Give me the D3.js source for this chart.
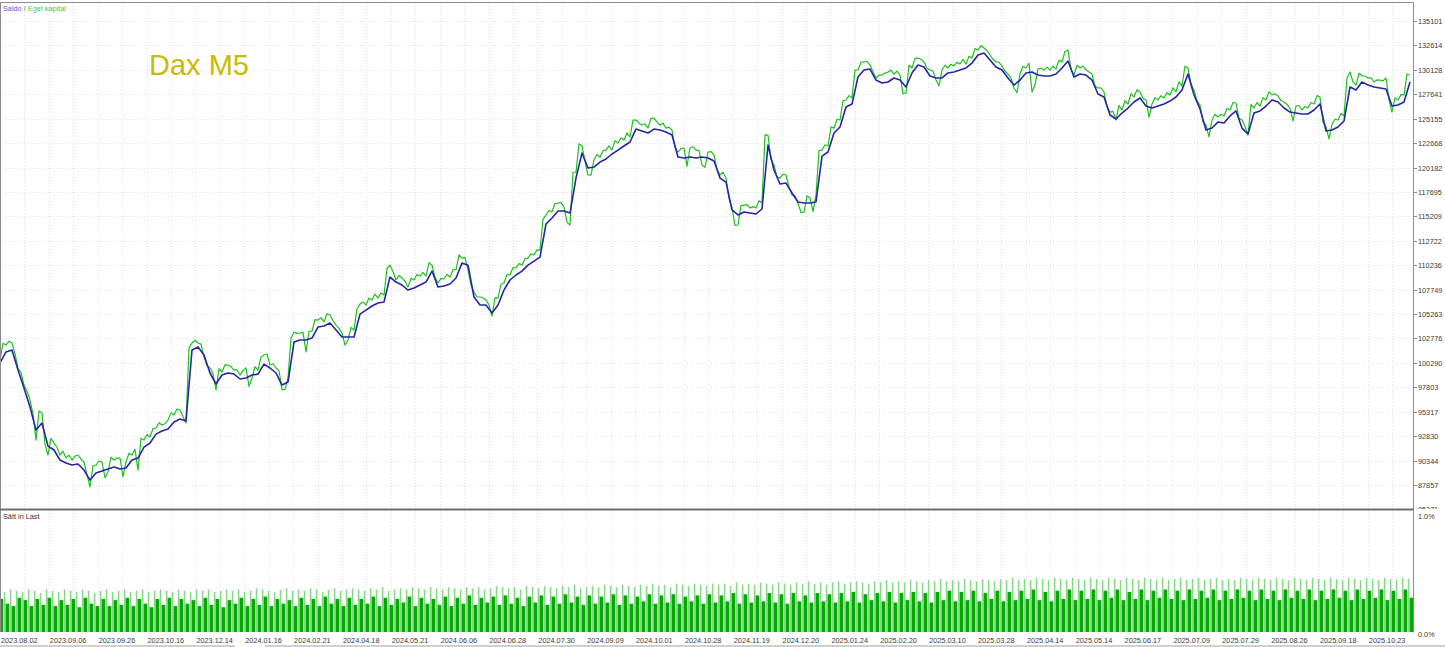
<!DOCTYPE html>
<html><head><meta charset="utf-8">
<script src="https://cdn.jsdelivr.net/npm/d3@7"></script>
<style>html,body{margin:0;padding:0;background:#fff;}svg{display:block;}</style>
</head><body>
<script>
const yTicks = [135101,132614,130128,127641,125155,122668,120182,117695,115209,112722,110236,107749,105263,102776,100290,97803,95317,92830,90344,87857];
const yBottomLabel = 85371;
const xLabels = ["2023.08.02","2023.09.06","2023.09.26","2023.10.16","2023.12.14","2024.01.16","2024.02.21","2024.04.18","2024.05.21","2024.06.06","2024.06.28","2024.07.30","2024.09.09","2024.10.01","2024.10.28","2024.11.19","2024.12.20","2025.01.24","2025.02.20","2025.03.10","2025.03.28","2025.04.14","2025.05.14","2025.06.17","2025.07.09","2025.07.29","2025.08.26","2025.09.18","2025.10.23"];

const balance = [100280,101400,101600,99560,97730,95790,93450,94170,91820,91420,
90400,90090,89890,89990,89380,88360,89070,89280,89480,89680,
89480,89580,90400,90600,91720,92130,93040,93350,93550,94270,
94570,94370,101600,101900,101090,99260,98140,99050,99260,99150,
98650,98750,99050,99150,100170,99770,99260,98030,98340,102410,
102620,102620,102820,103940,104040,104350,103640,102920,102920,102920,
105260,105670,106080,106390,106490,109030,108520,108220,107710,107910,
108220,108520,109640,108010,108120,108320,108930,110450,110240,107000,
106180,106180,105370,106180,107710,108730,109240,109640,110240,110650,
111060,114430,115040,115750,115750,115550,119110,121660,120130,120230,
120740,121050,121560,121960,122370,122780,124100,123900,123700,124100,
124000,123800,123490,121250,121150,121250,121150,121250,121150,120840,
119110,118700,115860,115350,115650,115550,115450,115960,122470,119930,
118500,118600,117590,116670,116570,116570,116670,121350,121760,123700,
124310,126340,126650,129400,130110,130210,129090,128790,128890,129300,
129090,128380,129810,130620,130420,129500,129300,129300,129810,129910,
130110,130320,130820,131640,131840,131130,130420,130110,129300,128580,
129090,129810,129910,129600,129500,129500,129700,130320,131030,129400,
129700,129600,129090,127670,127360,125530,125120,125730,126240,126850,
127260,126440,126240,126440,126650,126950,127360,128070,129700,127570,
126140,124000,124200,124820,124710,125430,125940,124200,123590,125730,
125940,126440,127060,126850,126240,125830,125730,125630,125630,126040,
126650,123900,124000,124310,124920,128380,128070,128890,128580,128380,
128280,128180,126440,126540,126850,128890];

// equity at each balance sample
const equity = [100580,102110,102310,99770,98030,96510,92430,95180,90910,92130,
90910,90600,90400,90910,90190,87650,89890,90190,89180,90400,
90600,90190,90910,89380,92430,92740,93660,93960,94470,94980,
95490,94170,102310,102310,100890,99770,97530,99360,100070,99560,
99050,99770,98750,99560,101090,100070,99770,97530,98750,103430,
103330,101400,103530,104650,104450,105160,104140,103330,102620,103640,
106280,106180,106690,106890,107200,110240,108730,108930,108010,108730,
109130,109130,110240,108420,108830,109030,109750,110960,109750,107510,
107000,106690,105060,106890,108420,109240,109950,110240,110960,111270,
111780,115350,115650,116570,116160,114330,119720,122370,119420,120950,
121250,121960,121960,122680,122980,123290,125020,124510,124200,125220,
124510,124200,124000,121760,122170,122170,121960,120440,121760,121460,
119420,119110,116060,114330,116360,116060,116060,116570,123490,120440,
119110,119420,117380,116570,115650,117080,117380,121960,122370,124200,
125020,127060,127260,130110,130930,130620,129300,129600,129910,129700,
129600,127770,130320,131330,130930,130110,129090,130110,130320,130520,
130720,130720,131330,132150,132350,131640,130930,130520,129700,128280,
129700,130320,127870,130210,130110,130110,130210,130930,132150,129600,
130320,130110,129700,128280,127870,125830,125020,126040,126650,127360,
127870,127060,126650,127060,127260,127570,127870,128480,130320,128070,
126540,124510,125020,125330,125430,126040,126750,125020,123490,126240,
126440,127060,127570,127460,126850,126240,126440,126040,126240,126650,
127360,124310,124610,125020,125430,129910,128580,129500,129300,128890,
129090,129300,125830,127060,127570,129600];

// equity read halfway between consecutive samples
const equityMid = [102300,102500,101200,99300,97400,95100,95400,92000,92600,91700,
91300,90900,90800,90500,88900,89800,90300,88600,90700,90600,
88700,91100,91500,92600,93000,93600,94200,94100,95200,95600,
94800,101800,102600,102200,100000,99200,99700,100100,99900,99600,
99500,97900,99900,100900,101200,100200,99500,97600,102800,103300,
103400,103500,104700,104900,105300,104600,103800,102100,103900,105800,
106500,106900,107300,107400,109900,109600,109200,108600,108900,109300,
109500,110500,109000,108900,109300,109800,111300,111000,108200,107000,
106900,106200,106900,108300,109300,110000,110400,110900,111400,111800,
114900,115800,116500,116600,114600,119700,122600,120800,119400,121500,
121900,122400,122900,123200,123700,125000,124700,124600,125200,124800,
124700,124300,122200,122100,120300,122300,121900,120200,121800,120000,
119700,117000,114300,116300,116400,116200,116800,123500,121000,119200,
119500,118200,117300,115600,117300,115700,121900,122500,124300,125100,
127000,127500,130100,130900,131000,129900,129600,129800,130100,130000,
127700,130600,131300,131200,130300,130000,128500,130600,130700,130900,
131200,131500,132300,132600,132100,131200,130900,130000,129300,127800,
130500,130800,128600,130300,130400,130500,131100,132000,130200,130600,
130500,129900,128500,128300,126400,125900,126500,127000,127700,128100,
127200,125300,127300,127500,127800,128300,128900,130500,128700,127000,
124800,123300,125600,125600,126200,126800,125200,124400,126600,126800,
127300,127900,127700,127000,126600,124900,126500,126400,126800,127500,
124800,123100,125100,125700,129300,128900,129800,129500,129300,129100,
129000,127100,127300,127600,129700];

const loadDark = [
0.28,0.24,0.22,0.29,0.27,0.22,0.28,0.23,0.29,0.22,
0.27,0.23,0.28,0.21,0.29,0.24,0.22,0.28,0.22,0.27,
0.23,0.29,0.22,0.28,0.24,0.21,0.28,0.23,0.29,0.22,
0.28,0.24,0.27,0.22,0.29,0.23,0.28,0.21,0.27,0.24,
0.29,0.22,0.28,0.23,0.30,0.22,0.28,0.24,0.27,0.22,
0.29,0.23,0.28,0.22,0.30,0.24,0.28,0.22,0.29,0.23,
0.28,0.24,0.30,0.22,0.29,0.23,0.28,0.25,0.30,0.22,
0.29,0.24,0.28,0.23,0.30,0.22,0.29,0.24,0.31,0.23,
0.29,0.25,0.30,0.23,0.31,0.24,0.29,0.22,0.30,0.25,
0.31,0.23,0.30,0.24,0.32,0.25,0.30,0.23,0.31,0.24,
0.30,0.25,0.32,0.23,0.31,0.24,0.30,0.26,0.32,0.24,
0.31,0.25,0.32,0.24,0.30,0.26,0.31,0.24,0.32,0.25,
0.31,0.26,0.33,0.24,0.32,0.25,0.31,0.26,0.33,0.25,
0.32,0.24,0.33,0.26,0.31,0.25,0.33,0.26,0.32,0.25,
0.33,0.26,0.34,0.25,0.32,0.27,0.33,0.26,0.34,0.25,
0.33,0.27,0.34,0.26,0.33,0.25,0.34,0.27,0.35,0.26,
0.34,0.27,0.35,0.26,0.33,0.28,0.35,0.26,0.34,0.27,
0.35,0.28,0.36,0.27,0.34,0.26,0.35,0.28,0.36,0.27,
0.35,0.28,0.36,0.27,0.35,0.29,0.36,0.27,0.34,0.28,
0.36,0.27,0.35,0.29,0.36,0.28,0.35,0.27,0.36,0.28,
0.35,0.29,0.36,0.27,0.35,0.28,0.36,0.29,0.35,0.27,
0.36,0.28,0.35,0.27,0.36,0.29,0.35,0.28,0.36,0.27,
0.35,0.28,0.36,0.29,0.35,0.27,0.36,0.28,0.35,0.29,
0.36,0.27,0.35,0.28,0.36,0.29];

const loadLight = [
0.35,0.34,0.36,0.35,0.34,0.36,0.35,0.33,0.36,0.35,
0.34,0.36,0.35,0.34,0.36,0.35,0.33,0.35,0.36,0.34,
0.35,0.36,0.34,0.35,0.36,0.34,0.35,0.36,0.35,0.34,
0.36,0.35,0.34,0.36,0.35,0.36,0.34,0.35,0.36,0.35,
0.36,0.34,0.35,0.37,0.36,0.35,0.34,0.36,0.37,0.35,
0.36,0.35,0.37,0.36,0.34,0.36,0.37,0.35,0.36,0.37,
0.36,0.35,0.37,0.36,0.38,0.35,0.36,0.37,0.36,0.38,
0.37,0.36,0.38,0.37,0.36,0.38,0.37,0.36,0.38,0.37,
0.38,0.36,0.37,0.39,0.38,0.37,0.38,0.36,0.39,0.38,
0.37,0.39,0.38,0.37,0.39,0.38,0.40,0.37,0.38,0.39,
0.38,0.40,0.39,0.38,0.40,0.39,0.38,0.40,0.39,0.41,
0.39,0.40,0.38,0.41,0.40,0.39,0.41,0.40,0.39,0.41,
0.40,0.41,0.39,0.42,0.40,0.41,0.40,0.42,0.41,0.40,
0.42,0.41,0.40,0.42,0.41,0.43,0.41,0.42,0.40,0.42,
0.43,0.41,0.42,0.43,0.42,0.41,0.43,0.42,0.44,0.42,
0.43,0.42,0.44,0.43,0.42,0.44,0.43,0.45,0.43,0.44,
0.43,0.45,0.44,0.43,0.45,0.44,0.43,0.45,0.44,0.46,
0.44,0.45,0.44,0.46,0.45,0.44,0.46,0.45,0.44,0.46,
0.45,0.44,0.46,0.45,0.44,0.46,0.45,0.44,0.46,0.45,
0.44,0.46,0.45,0.44,0.46,0.44,0.45,0.46,0.44,0.45,
0.46,0.44,0.45,0.46,0.44,0.45,0.44,0.46,0.45,0.44,
0.46,0.45,0.44,0.46,0.45,0.44,0.46,0.45,0.44,0.46,
0.45,0.44,0.46,0.45,0.44,0.46,0.45,0.44,0.46,0.45,
0.44,0.46,0.45,0.44,0.46,0.45];

const W = 1445, H = 647;
const plotR = 1413, mainTop = 3, sepY = 509.5, loadBottom = 632;
const FONT = "'Liberation Sans', Arial, sans-serif";

const svg = d3.select("body").append("svg").attr("width", W).attr("height", H);

const x = d3.scaleLinear().domain([0, balance.length - 1]).range([0, 1410]);
const y = d3.scaleLinear().domain([87857, 135101]).range([485, 21]);
const yl = d3.scaleLinear().domain([0, 1]).range([loadBottom, 514]);

const gridStep = y(yTicks[1]) - y(yTicks[0]);

// grid
const grid = svg.append("g").attr("stroke", "#e2e2e2").attr("stroke-dasharray", "1,2").attr("stroke-width", 1);
yTicks.forEach(v => {
  const yy = Math.round(y(v)) + 0.5;
  grid.append("line").attr("x1", 0).attr("x2", plotR).attr("y1", yy).attr("y2", yy);
});
for (let k = 1; k * gridStep < plotR; k++) {
  const xx = Math.round(k * gridStep) + 0.5;
  grid.append("line").attr("x1", xx).attr("x2", xx).attr("y1", mainTop).attr("y2", loadBottom);
}

// load bars
const bars = svg.append("g");
bars.selectAll("rect.l").data(loadLight).join("rect")
  .attr("x", (d, i) => x(i) - 2.2).attr("width", 1.6)
  .attr("y", d => yl(d)).attr("height", d => loadBottom - yl(d))
  .attr("fill", "#86da86");
bars.selectAll("rect.d").data(loadDark).join("rect")
  .attr("x", (d, i) => x(i) - 0.4).attr("width", 3.6)
  .attr("y", d => yl(d)).attr("height", d => loadBottom - yl(d))
  .attr("fill", "#05a805");

// equity points interleaved (sample, halfway, sample, ...)
const eqPts = [];
equity.forEach((v, i) => {
  eqPts.push([i, v]);
  if (i < equityMid.length) eqPts.push([i + 0.5, equityMid[i]]);
});

// lines
svg.append("defs").append("clipPath").attr("id", "mainclip")
  .append("rect").attr("x", 0).attr("y", mainTop).attr("width", plotR).attr("height", sepY - mainTop);
const lineG = svg.append("g").attr("clip-path", "url(#mainclip)");
lineG.append("path").datum(eqPts)
  .attr("d", d3.line().x(d => x(d[0])).y(d => y(d[1])))
  .attr("fill", "none").attr("stroke", "#1fbf1f").attr("stroke-width", 1.2).attr("stroke-linejoin", "round");
lineG.append("path").datum(balance)
  .attr("d", d3.line().x((d, i) => x(i)).y(d => y(d)))
  .attr("fill", "none").attr("stroke", "#2626a6").attr("stroke-width", 1.6).attr("stroke-linejoin", "round");

// frame
const frame = svg.append("g").attr("stroke", "#8c8c8c").attr("fill", "none");
frame.append("line").attr("x1", 0).attr("x2", plotR + 0.5).attr("y1", 2.5).attr("y2", 2.5);
frame.append("line").attr("x1", 0.5).attr("x2", 0.5).attr("y1", 2.5).attr("y2", loadBottom);
frame.append("line").attr("x1", plotR + 0.5).attr("x2", plotR + 0.5).attr("y1", 2.5).attr("y2", loadBottom + 0.5);
frame.append("line").attr("x1", 0).attr("x2", plotR + 0.5).attr("y1", sepY).attr("y2", sepY).attr("stroke", "#6e6e6e").attr("stroke-width", 2);
frame.append("line").attr("x1", 0).attr("x2", 235).attr("y1", 646).attr("y2", 646).attr("stroke", "#a0a0a0");
frame.append("line").attr("x1", 265).attr("x2", W).attr("y1", 646).attr("y2", 646).attr("stroke", "#a0a0a0");

// right axis
const ax = svg.append("g").attr("font-family", FONT).attr("font-size", "7.3px").attr("fill", "#3a3a3a");
yTicks.forEach(v => {
  const yy = Math.round(y(v)) + 0.5;
  ax.append("line").attr("x1", plotR).attr("x2", plotR + 4).attr("y1", yy).attr("y2", yy).attr("stroke", "#8c8c8c");
  ax.append("text").attr("x", plotR + 5).attr("y", yy + 2.6).text(v);
});
svg.append("defs").append("clipPath").attr("id", "botlab").append("rect").attr("x", plotR).attr("y", 500).attr("width", 40).attr("height", 9);
ax.append("text").attr("x", plotR + 5).attr("y", y(yBottomLabel) + 2.6).attr("clip-path", "url(#botlab)").text(yBottomLabel);
ax.append("text").attr("x", plotR + 5).attr("y", yl(1) + 4.5).text("1.0%");
ax.append("text").attr("x", plotR + 5).attr("y", yl(0) + 5).text("0.0%");

// x labels
const xl = svg.append("g").attr("font-family", FONT).attr("font-size", "7.3px").attr("fill", "#3a3a3a");
xLabels.forEach((t, j) => {
  xl.append("text").attr("x", j * 2 * gridStep + 1).attr("y", 643).text(t);
});

// legend & titles
const leg = svg.append("text").attr("x", 3).attr("y", 11).attr("font-family", FONT).attr("font-size", "7.3px");
leg.append("tspan").attr("fill", "#5a5ad0").text("Saldo");
leg.append("tspan").attr("fill", "#666").text(" / ");
leg.append("tspan").attr("fill", "#3ccc3c").text("Eget kapital");
svg.append("text").attr("x", 3).attr("y", 518.5).attr("font-family", FONT).attr("font-size", "7.3px").attr("fill", "#333").text("Sätt in Last");
svg.append("text").attr("x", 149).attr("y", 75).attr("font-family", FONT).attr("font-size", "29px").attr("fill", "#c8bc00").text("Dax M5");
</script>
</body></html>
